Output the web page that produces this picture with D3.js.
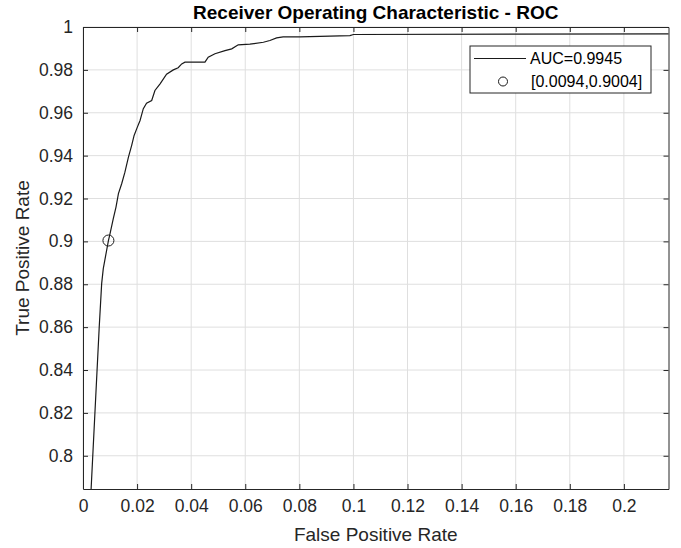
<!DOCTYPE html>
<html>
<head>
<meta charset="utf-8">
<script src="https://cdn.jsdelivr.net/npm/d3@7"></script>
<style>
  body { margin: 0; background: #fff; }
  text { font-family: "Liberation Sans", Arial, Helvetica, sans-serif; fill: #262626; }
</style>
</head>
<body>
<div id="chart"></div>
<script>
// ROC curve
var fpr = [0.0030, 0.0060, 0.0069, 0.0075, 0.0094, 0.0100, 0.0112, 0.0122, 0.0131, 0.0143,
           0.0155, 0.0168, 0.0180, 0.0189, 0.0201, 0.0211, 0.0223, 0.0235, 0.0254, 0.0266,
           0.0285, 0.0309, 0.0334, 0.0352, 0.0365, 0.0377, 0.0451, 0.0463, 0.0488, 0.0525,
           0.0550, 0.0574, 0.0617, 0.0667, 0.0691, 0.0716, 0.0740, 0.0802, 0.0987, 0.1000, 0.2200];
var tpr = [0.7845, 0.8601, 0.8803, 0.8873, 0.9004, 0.9036, 0.9106, 0.9160, 0.9223, 0.9269,
           0.9323, 0.9393, 0.9448, 0.9494, 0.9533, 0.9564, 0.9619, 0.9645, 0.9657, 0.9704,
           0.9735, 0.9780, 0.9800, 0.9810, 0.9828, 0.9836, 0.9836, 0.9859, 0.9875, 0.9890,
           0.9898, 0.9917, 0.9920, 0.9929, 0.9937, 0.9949, 0.9954, 0.9954, 0.9960, 0.9965, 0.9968];
var optPoint = [0.0094, 0.9004];
var xTicks = [0, 0.02, 0.04, 0.06, 0.08, 0.1, 0.12, 0.14, 0.16, 0.18, 0.2];
var yTicks = [0.8, 0.82, 0.84, 0.86, 0.88, 0.9, 0.92, 0.94, 0.96, 0.98, 1];
var legendLabels = ["AUC=0.9945", "[0.0094,0.9004]"];

var W = 681, H = 548;
var plotLeft = 83, plotRight = 668.5, plotTop = 27, plotBottom = 489;
var axisColor = "#262626", gridColor = "#dfdfdf";

var svg = d3.select("#chart").append("svg")
  .attr("width", W).attr("height", H);

var x = d3.scaleLinear().domain([0, 0.2165]).range([plotLeft, plotRight]);
var y = d3.scaleLinear().domain([0.7845, 1]).range([plotBottom, plotTop]);

// grid
svg.append("g").selectAll("line").data(xTicks).enter().append("line")
  .attr("x1", d => x(d)).attr("x2", d => x(d))
  .attr("y1", plotTop).attr("y2", plotBottom)
  .attr("stroke", gridColor).attr("stroke-width", 1);
svg.append("g").selectAll("line").data(yTicks).enter().append("line")
  .attr("x1", plotLeft).attr("x2", plotRight)
  .attr("y1", d => y(d)).attr("y2", d => y(d))
  .attr("stroke", gridColor).attr("stroke-width", 1);

// axes (ticks inside, box on)
function styleAxis(g) {
  g.attr("font-family", null).attr("font-size", null);
  g.select(".domain").attr("stroke", axisColor);
  g.selectAll(".tick line").attr("stroke", axisColor);
  g.selectAll("text").attr("fill", axisColor)
    .style("font-family", "'Liberation Sans', Arial, sans-serif")
    .style("font-size", "17.5px");
}
svg.append("g").attr("transform", "translate(0," + plotBottom + ")")
  .call(d3.axisBottom(x).tickValues(xTicks).tickSizeInner(-5).tickSizeOuter(0).tickPadding(11).tickFormat(d3.format("~g")))
  .call(styleAxis);
svg.append("g").attr("transform", "translate(" + plotLeft + ",0)")
  .call(d3.axisLeft(y).tickValues(yTicks).tickSizeInner(-5).tickSizeOuter(0).tickPadding(10).tickFormat(d3.format("~g")))
  .call(styleAxis);
svg.append("g").attr("transform", "translate(0," + plotTop + ")")
  .call(d3.axisTop(x).tickValues(xTicks).tickSizeInner(-5).tickSizeOuter(0).tickFormat(""))
  .call(styleAxis);
svg.append("g").attr("transform", "translate(" + plotRight + ",0)")
  .call(d3.axisRight(y).tickValues(yTicks).tickSizeInner(-5).tickSizeOuter(0).tickFormat(""))
  .call(styleAxis);

// curve
svg.append("clipPath").attr("id", "clip").append("rect")
  .attr("x", plotLeft).attr("y", plotTop).attr("width", plotRight - plotLeft).attr("height", plotBottom - plotTop);

var line = d3.line().x(d => x(d[0])).y(d => y(d[1]));
svg.append("path")
  .datum(fpr.map((f, i) => [f, tpr[i]]))
  .attr("clip-path", "url(#clip)")
  .attr("d", line)
  .attr("fill", "none").attr("stroke", "#1a1a1a").attr("stroke-width", 1.2);

svg.append("circle")
  .attr("cx", x(optPoint[0])).attr("cy", y(optPoint[1])).attr("r", 5.5)
  .attr("fill", "none").attr("stroke", "#1a1a1a").attr("stroke-width", 1);

// title and labels
svg.append("text").attr("x", (plotLeft + plotRight) / 2).attr("y", 19)
  .attr("text-anchor", "middle").style("font-size", "19px").style("font-weight", "bold")
  .style("fill", "#000").text("Receiver Operating Characteristic - ROC");
svg.append("text").attr("x", (plotLeft + plotRight) / 2).attr("y", 541)
  .attr("text-anchor", "middle").style("font-size", "19px")
  .text("False Positive Rate");
svg.append("text")
  .attr("transform", "translate(29," + (plotTop + plotBottom) / 2 + ") rotate(-90)")
  .attr("text-anchor", "middle").style("font-size", "19px")
  .text("True Positive Rate");

// legend
var lg = svg.append("g");
lg.append("rect").attr("x", 470).attr("y", 46).attr("width", 181).attr("height", 47)
  .attr("fill", "#fff").attr("stroke", axisColor).attr("stroke-width", 1);
lg.append("line").attr("x1", 474).attr("x2", 526).attr("y1", 58.5).attr("y2", 58.5)
  .attr("stroke", "#1a1a1a").attr("stroke-width", 1.2);
lg.append("circle").attr("cx", 503).attr("cy", 81.5).attr("r", 4.5)
  .attr("fill", "none").attr("stroke", "#1a1a1a").attr("stroke-width", 1);
lg.selectAll("text.lab").data(legendLabels).enter().append("text")
  .attr("class", "lab")
  .attr("x", (d, i) => i === 0 ? 530 : 531)
  .attr("y", (d, i) => i === 0 ? 58.5 : 81.5)
  .attr("dy", "0.35em")
  .style("font-size", "16px").style("fill", "#000")
  .text(d => d);
</script>
</body>
</html>
